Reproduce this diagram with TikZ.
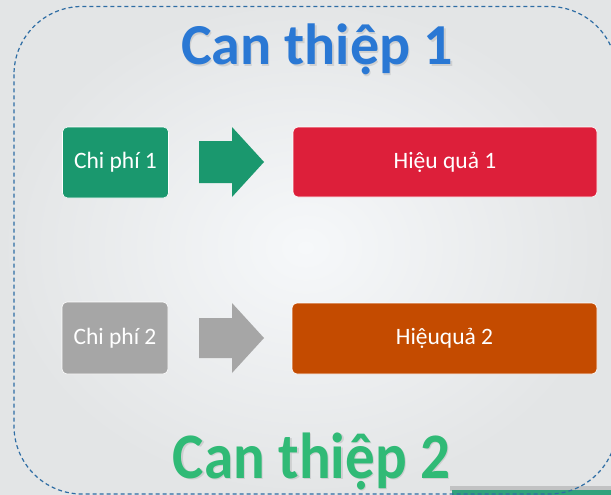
\documentclass[tikz,border=0pt]{standalone}
\usepackage{fontspec}
\setmainfont{Carlito}
\definecolor{bgin}{HTML}{F6F8FA}
\definecolor{bgout}{HTML}{E3E5E6}
\definecolor{dashblue}{HTML}{2E6DA4}
\definecolor{cgreen}{HTML}{1A986E}
\definecolor{cred}{HTML}{DD1F3A}
\definecolor{cgray}{HTML}{A6A6A6}
\definecolor{corange}{HTML}{C44B00}
\definecolor{tblue}{HTML}{2A78D4}
\definecolor{tgreen}{HTML}{30BA76}
\tikzset{
  box/.style={draw=white, line width=0.6pt, rounded corners=5pt, text=white,
    font=\fontsize{23.5}{27}\selectfont, inner sep=0pt, anchor=center},
  bigtitle/.style={font=\bfseries\fontsize{58}{62}\selectfont, anchor=base, inner sep=0pt}
}
\begin{document}
\begin{tikzpicture}[x=1pt,y=-1pt]
\useasboundingbox (0,0) rectangle (611,495);
\shade[inner color=bgin, outer color=bgout] (0,0) rectangle (611,495);
% green bar at bottom right
\fill[black, opacity=0.15] (450,486) rectangle (620,491);
\fill[cgreen!90!white] (452,490) rectangle (620,500);
% dashed frame
\draw[dashblue, line width=1.2pt, dash pattern=on 4pt off 3pt, rounded corners=68pt]
  (14,6.5) rectangle (617,494);
% titles
\node[bigtitle, text=black!40, opacity=0.3] at (318.5,66.5) {Can thiệp 1};
\node[bigtitle, text=tblue] (t1) at (317,65) {Can thiệp 1};
\node[bigtitle, text=black!40, opacity=0.3, xscale=1.02, yscale=1.12] at (313,479.5) {Can thiệp 2};
\node[bigtitle, text=tgreen, xscale=1.02, yscale=1.12] (t2) at (311.5,478) {Can thiệp 2};
% row 1
\node[box, fill=cgreen, minimum width=106pt, minimum height=71pt] (c1) at (115.5,162.5) {Chi phí 1};
\node[box, fill=cred, minimum width=304pt, minimum height=70pt] (h1) at (445,162) {Hiệu quả 1};
\fill[cgreen] (199,141) -- (232,141) -- (232,127) -- (264,162) -- (232,197) -- (232,183) -- (199,183) -- cycle;
% row 2
\node[box, fill=cgray, minimum width=106pt, minimum height=72pt] (c2) at (115,338) {Chi phí 2};
\node[box, fill=corange, minimum width=305pt, minimum height=71pt] (h2) at (444.5,338.5) {Hiệuquả 2};
\fill[cgray] (199,318) -- (232,318) -- (232,303) -- (264,338) -- (232,373) -- (232,358) -- (199,358) -- cycle;
\end{tikzpicture}
\end{document}
